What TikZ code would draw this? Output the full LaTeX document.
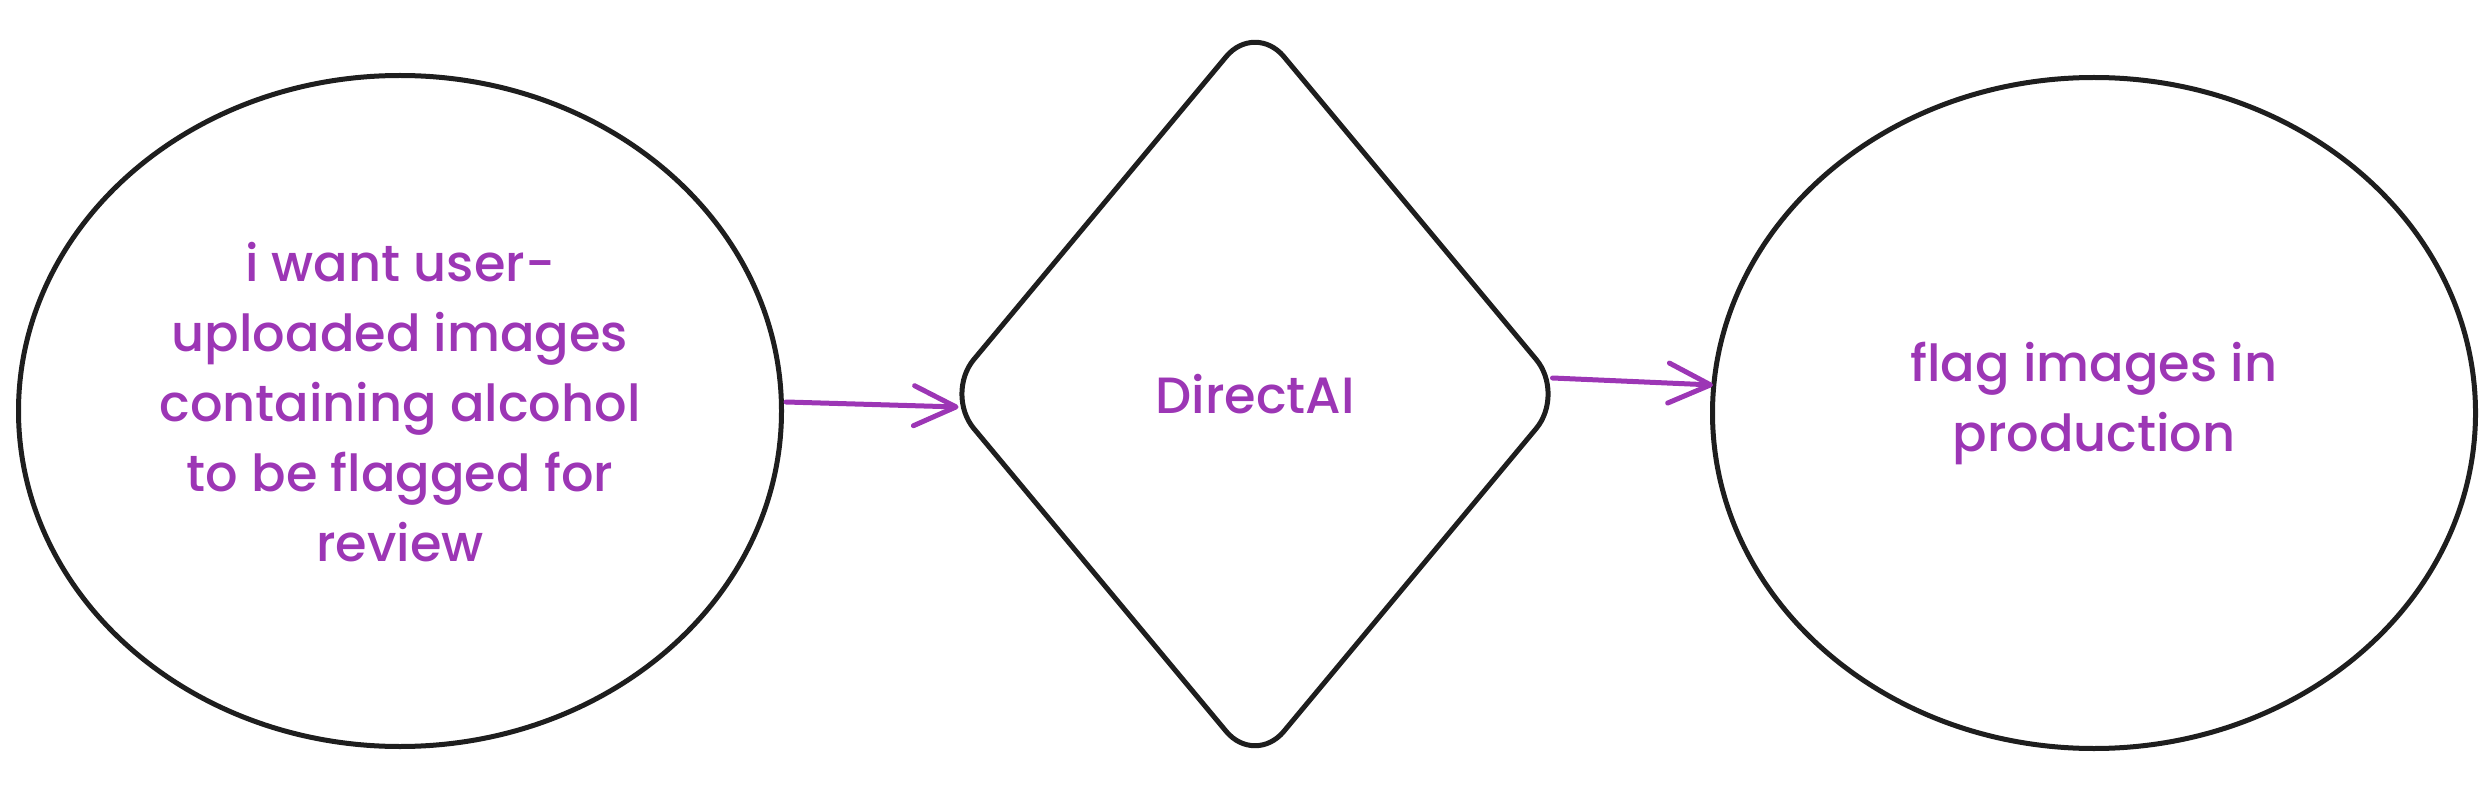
\documentclass[tikz,border=0pt]{standalone}
\usepackage{fontspec}
\setmainfont{Poppins}[UprightFont=* Medium]
\usetikzlibrary{shapes.geometric,arrows.meta}
\definecolor{ink}{HTML}{1E1E1E}
\definecolor{violet}{HTML}{9C36B5}
\tikzset{
  shapeline/.style={draw=ink, line width=5pt},
  oval/.style={shapeline, ellipse, inner sep=0pt, minimum width=763pt, minimum height=671pt},
  rhomb/.style={shapeline, diamond, inner sep=0pt, minimum width=622pt, minimum height=746pt, rounded corners=45pt},
  label/.style={text=violet, font=\fontsize{51}{70}\selectfont, align=center},
  flow/.style={draw=violet, line width=5pt, line cap=round,
    -{Straight Barb[length=42pt, width=40pt, line width=5pt, round]}}
}
\begin{document}
\begin{tikzpicture}[x=1pt,y=-1pt]
\useasboundingbox (0,0) rectangle (2491,791);
\node[oval] (L) at (400,411) {};
\node[rhomb] (D) at (1255,394) {};
\node[oval] (R) at (2094,413) {};
\node[label] (Lt) at (400,402) {i want user-\\uploaded images\\containing alcohol\\to be flagged for\\review};
\node[label] (Dt) at (1255,394) {DirectAI};
\node[label] (Rt) at (2094,403) {flag images in\\production};
\draw[flow] ([shift={(2,-9)}]L.east) -- ([shift={(17,13)}]D.west);
\draw[flow] ([shift={(-16,-16)}]D.east) -- ([shift={(3,-28)}]R.west);
\end{tikzpicture}
\end{document}
